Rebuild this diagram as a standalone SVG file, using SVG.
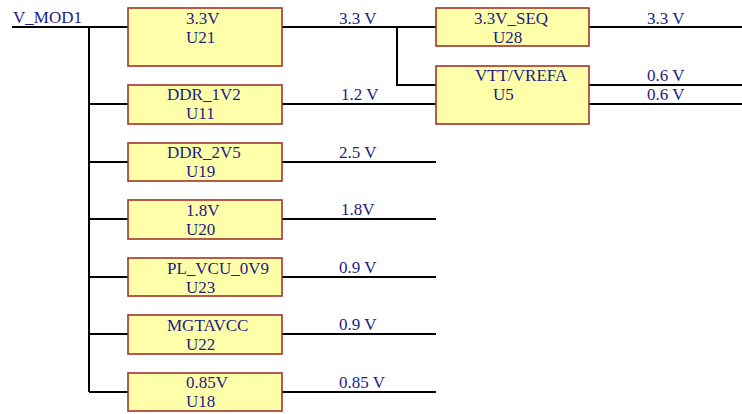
<svg xmlns="http://www.w3.org/2000/svg" width="742" height="414" viewBox="0 0 742 414">
<style>
.box{fill:#ffffaa;stroke:#a3332c;stroke-width:1.6}
.t{font-family:"Liberation Serif","Times New Roman",serif;font-size:17px;fill:#1c1c86}
.w{stroke:#000;stroke-width:2;fill:none}
</style>
<rect width="742" height="414" fill="#fff"/>
<g id="connectors">
<path class="w" d="M12 27H128M89 27V392M89 104H128M89 162H128M89 219H128M89 277H128M89 334H128M89 392H128"/>
<path class="w" d="M282 27H436M397 27V85H436M282 104H436"/>
<path class="w" d="M589 27H742M589 85H742M589 104H742"/>
<path class="w" d="M282 162H436M282 219H436M282 277H436M282 334H436M282 392H436"/>
</g>
<g id="labels">
<text class="t" x="13" y="23">V_MOD1</text>
<text class="t" x="339" y="24">3.3 V</text>
<text class="t" x="341" y="100">1.2 V</text>
<text class="t" x="647" y="24">3.3 V</text>
<text class="t" x="647" y="81">0.6 V</text>
<text class="t" x="647" y="100">0.6 V</text>
<text class="t" x="339" y="158">2.5 V</text>
<text class="t" x="341" y="215">1.8V</text>
<text class="t" x="339" y="273">0.9 V</text>
<text class="t" x="339" y="330">0.9 V</text>
<text class="t" x="339" y="388">0.85 V</text>
</g>
<g id="U21"><rect class="box" x="128" y="8" width="154" height="58"/><text class="t" x="186" y="24">3.3V</text><text class="t" x="186" y="43">U21</text></g>
<g id="U11"><rect class="box" x="128" y="85" width="154" height="39"/><text class="t" x="167" y="100">DDR_1V2</text><text class="t" x="186" y="119">U11</text></g>
<g id="U19"><rect class="box" x="128" y="143" width="154" height="38"/><text class="t" x="167" y="158">DDR_2V5</text><text class="t" x="186" y="177">U19</text></g>
<g id="U20"><rect class="box" x="128" y="200" width="154" height="39"/><text class="t" x="186" y="216">1.8V</text><text class="t" x="186" y="234.5">U20</text></g>
<g id="U23"><rect class="box" x="128" y="258" width="154" height="38"/><text class="t" x="167" y="274">PL_VCU_0V9</text><text class="t" x="186" y="293">U23</text></g>
<g id="U22"><rect class="box" x="128" y="315" width="154" height="39"/><text class="t" x="167" y="331">MGTAVCC</text><text class="t" x="186" y="350">U22</text></g>
<g id="U18"><rect class="box" x="128" y="373" width="154" height="38"/><text class="t" x="186" y="388">0.85V</text><text class="t" x="186" y="407">U18</text></g>
<g id="U28"><rect class="box" x="436" y="8" width="153" height="38"/><text class="t" x="474" y="24">3.3V_SEQ</text><text class="t" x="493" y="43">U28</text></g>
<g id="U5"><rect class="box" x="436" y="66" width="153" height="58"/><text class="t" x="475" y="81">VTT/VREFA</text><text class="t" x="493" y="100">U5</text></g>
</svg>
